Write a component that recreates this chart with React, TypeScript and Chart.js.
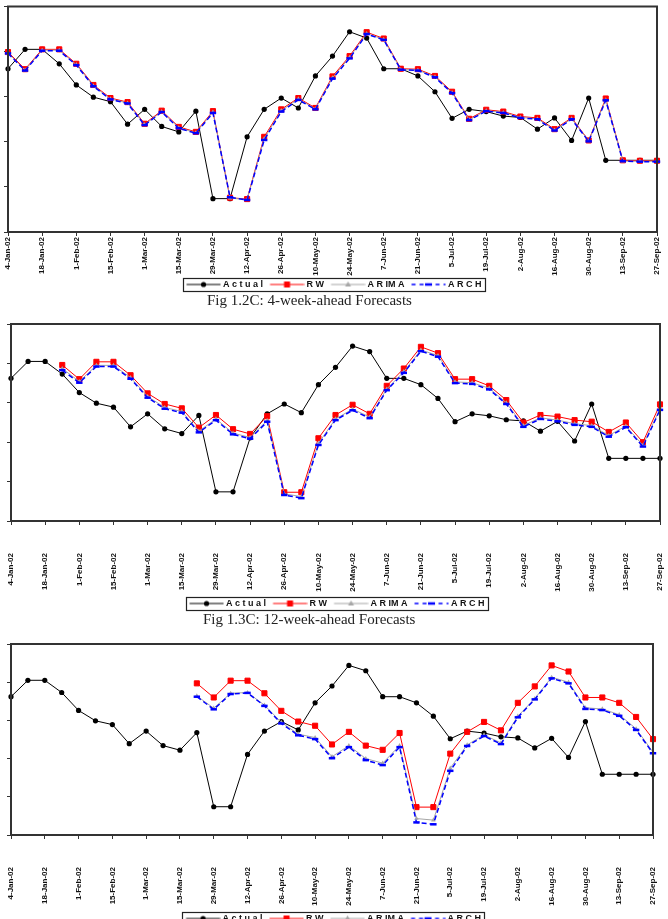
import { useEffect, useRef } from 'react';
import { Chart, registerables } from 'chart.js';

Chart.register(...registerables);

// Weekly observation dates (Fridays), 2002
const weekLabels = [
  '4-Jan-02', '11-Jan-02', '18-Jan-02', '25-Jan-02', '1-Feb-02', '8-Feb-02', '15-Feb-02', '22-Feb-02',
  '1-Mar-02', '8-Mar-02', '15-Mar-02', '22-Mar-02', '29-Mar-02', '5-Apr-02', '12-Apr-02', '19-Apr-02',
  '26-Apr-02', '3-May-02', '10-May-02', '17-May-02', '24-May-02', '31-May-02', '7-Jun-02', '14-Jun-02',
  '21-Jun-02', '28-Jun-02', '5-Jul-02', '12-Jul-02', '19-Jul-02', '26-Jul-02', '2-Aug-02', '9-Aug-02',
  '16-Aug-02', '23-Aug-02', '30-Aug-02', '6-Sep-02', '13-Sep-02', '20-Sep-02', '27-Sep-02',
];

const actual = [
  3.62, 4.05, 4.05, 3.73, 3.26, 2.99, 2.89, 2.39, 2.72, 2.34, 2.22, 2.68, 0.74, 0.74, 2.11, 2.72,
  2.97, 2.75, 3.46, 3.90, 4.44, 4.30, 3.62, 3.62, 3.46, 3.11, 2.52, 2.72, 2.67, 2.57, 2.54, 2.28,
  2.53, 2.03, 2.97, 1.59, 1.59, 1.59, 1.59,
];

// 4-week-ahead forecasts
const rw4 = [
  3.99, 3.61, 4.05, 4.05, 3.73, 3.26, 2.97, 2.88, 2.40, 2.69, 2.33, 2.22, 2.68, 0.76, 0.73, 2.11,
  2.72, 2.97, 2.75, 3.45, 3.90, 4.43, 4.29, 3.62, 3.61, 3.46, 3.11, 2.51, 2.71, 2.67, 2.56, 2.53,
  2.28, 2.53, 2.03, 2.96, 1.59, 1.58, 1.58,
];
const arima4 = [
  3.97, 3.59, 4.03, 4.03, 3.71, 3.24, 2.95, 2.86, 2.38, 2.67, 2.31, 2.20, 2.66, 0.75, 0.72, 2.07,
  2.69, 2.95, 2.73, 3.42, 3.87, 4.40, 4.27, 3.60, 3.59, 3.44, 3.09, 2.49, 2.69, 2.65, 2.54, 2.51,
  2.26, 2.51, 2.02, 2.93, 1.57, 1.57, 1.57,
];
const arch4 = [
  3.96, 3.58, 4.02, 4.02, 3.70, 3.23, 2.94, 2.85, 2.37, 2.66, 2.30, 2.19, 2.64, 0.77, 0.71, 2.04,
  2.67, 2.93, 2.72, 3.40, 3.85, 4.39, 4.26, 3.60, 3.58, 3.43, 3.08, 2.48, 2.68, 2.64, 2.53, 2.50,
  2.25, 2.50, 2.01, 2.92, 1.57, 1.56, 1.56,
];

// 12-week-ahead forecasts
const rw12 = [
  null, null, null, 3.96, 3.60, 4.04, 4.04, 3.70, 3.24, 2.97, 2.86, 2.37, 2.69, 2.33, 2.21, 2.66,
  0.73, 0.73, 2.10, 2.69, 2.95, 2.72, 3.43, 3.87, 4.42, 4.26, 3.60, 3.60, 3.43, 3.07, 2.50, 2.69,
  2.65, 2.56, 2.52, 2.26, 2.50, 2.00, 2.96,
];
const arima12 = [
  null, null, null, 3.87, 3.54, 3.95, 3.95, 3.64, 3.16, 2.88, 2.78, 2.28, 2.59, 2.23, 2.12, 2.55,
  0.69, 0.62, 1.97, 2.59, 2.84, 2.64, 3.35, 3.79, 4.34, 4.20, 3.53, 3.51, 3.37, 3.00, 2.42, 2.62,
  2.56, 2.47, 2.42, 2.17, 2.41, 1.92, 2.85,
];
const arch12 = [
  null, null, null, 3.83, 3.51, 3.92, 3.92, 3.61, 3.13, 2.85, 2.75, 2.25, 2.56, 2.20, 2.09, 2.52,
  0.66, 0.58, 1.93, 2.56, 2.81, 2.61, 3.32, 3.76, 4.31, 4.17, 3.50, 3.48, 3.34, 2.97, 2.39, 2.59,
  2.53, 2.44, 2.39, 2.14, 2.38, 1.89, 2.82,
];

// 24-week-ahead forecasts
const rw24 = [
  null, null, null, null, null, null, null, null, null, null, null,
  3.97, 3.60, 4.04, 4.04, 3.71, 3.25, 2.97, 2.86, 2.37, 2.70, 2.34, 2.23, 2.67, 0.73, 0.73, 2.13,
  2.70, 2.96, 2.74, 3.46, 3.89, 4.44, 4.28, 3.60, 3.60, 3.46, 3.09, 2.51,
];
const arima24 = [
  null, null, null, null, null, null, null, null, null, null, null,
  3.64, 3.32, 3.71, 3.73, 3.40, 2.95, 2.64, 2.55, 2.05, 2.34, 2.00, 1.88, 2.34, 0.43, 0.39, 1.75,
  2.36, 2.62, 2.41, 3.11, 3.57, 4.13, 4.00, 3.33, 3.30, 3.15, 2.78, 2.17,
];
const arch24 = [
  null, null, null, null, null, null, null, null, null, null, null,
  3.62, 3.29, 3.69, 3.72, 3.38, 2.92, 2.61, 2.51, 2.01, 2.30, 1.96, 1.83, 2.30, 0.33, 0.28, 1.68,
  2.33, 2.59, 2.38, 3.08, 3.55, 4.10, 3.97, 3.30, 3.27, 3.12, 2.75, 2.14,
];

const seriesNames = ['A c t u a l', 'R W', 'A R IM A', 'A R C H'];

const SANS = '"Liberation Sans", Arial, sans-serif';
const COL_ACTUAL = '#000000';
const COL_RW = '#ff0000';
const COL_ARIMA = '#a6a6a6';
const COL_ARCH = '#0000ff';
const FRAME = '#333333';

type Layout = {
  top: number;
  height: number;
  padL: number;
  padR: number;
  padT: number;
  padB: number;
  axisH: number;
  tickPad: number;
};

// Line-with-marker swatches for the legend (40px wide, line from x=5.5 to x=39.5)
function makeSwatch(kind: number): HTMLCanvasElement {
  const c = document.createElement('canvas');
  c.width = 40;
  c.height = 10;
  const g = c.getContext('2d')!;
  const cy = 5;
  const x0 = 5.5;
  const x1 = 39.5;
  const cx = 22.5;
  if (kind === 0) {
    g.strokeStyle = COL_ACTUAL; g.lineWidth = 1;
    g.beginPath(); g.moveTo(x0, cy); g.lineTo(x1, cy); g.stroke();
    g.fillStyle = COL_ACTUAL; g.beginPath(); g.arc(cx, cy, 2.6, 0, Math.PI * 2); g.fill();
  } else if (kind === 1) {
    g.strokeStyle = COL_RW; g.lineWidth = 1;
    g.beginPath(); g.moveTo(x0, cy); g.lineTo(x1, cy); g.stroke();
    g.fillStyle = COL_RW; g.fillRect(cx - 3, cy - 3, 6, 6);
  } else if (kind === 2) {
    g.strokeStyle = COL_ARIMA; g.lineWidth = 1;
    g.beginPath(); g.moveTo(x0, cy); g.lineTo(x1, cy); g.stroke();
    g.fillStyle = COL_ARIMA; g.beginPath();
    g.moveTo(cx, cy - 3); g.lineTo(cx + 3, cy + 2); g.lineTo(cx - 3, cy + 2); g.closePath(); g.fill();
  } else {
    g.strokeStyle = COL_ARCH; g.lineWidth = 1.5; g.setLineDash([4, 4]);
    g.beginPath(); g.moveTo(x0, cy); g.lineTo(x1, cy); g.stroke();
    g.setLineDash([]); g.lineWidth = 2.5;
    g.beginPath(); g.moveTo(cx - 3.5, cy); g.lineTo(cx + 3.5, cy); g.stroke();
  }
  return c;
}

// Border round the plot area and round the legend
const framePlugin = {
  id: 'plotFrame',
  afterDraw(chart: any) {
    const { ctx, chartArea: a } = chart;
    ctx.save();
    ctx.strokeStyle = FRAME;
    ctx.lineWidth = 2;
    ctx.strokeRect(a.left, a.top, a.right - a.left, a.bottom - a.top);
    const boxes = chart.legend && chart.legend.legendHitBoxes;
    if (boxes && boxes.length) {
      const first = boxes[0];
      const last = boxes[boxes.length - 1];
      const l = first.left - 1;
      const r = last.left + last.width + 3;
      const t = first.top - 2;
      ctx.lineWidth = 1.2;
      ctx.strokeStyle = '#222';
      ctx.strokeRect(Math.round(l) + 0.5, Math.round(t) + 0.5, Math.round(r - l), 13);
    }
    ctx.restore();
  },
};

function ForecastChart(props: {
  layout: Layout;
  rw: (number | null)[];
  arima: (number | null)[];
  arch: (number | null)[];
}) {
  const ref = useRef<HTMLCanvasElement | null>(null);
  const { layout, rw, arima, arch } = props;

  useEffect(() => {
    if (!ref.current) return;
    const swatches = [0, 1, 2, 3].map(makeSwatch);
    const colors = [COL_ACTUAL, COL_RW, COL_ARIMA, COL_ARCH];
    const chart = new Chart(ref.current, {
      type: 'line',
      data: {
        labels: weekLabels,
        datasets: [
          {
            label: seriesNames[0], data: actual, borderColor: COL_ACTUAL, backgroundColor: COL_ACTUAL,
            borderWidth: 1, pointStyle: 'circle', pointRadius: 2.6, pointBorderWidth: 0,
            pointBackgroundColor: COL_ACTUAL, order: 3, clip: false,
          },
          {
            label: seriesNames[1], data: rw, borderColor: COL_RW, backgroundColor: COL_RW,
            borderWidth: 1, pointStyle: 'rect', pointRadius: 3.6, pointBorderWidth: 1,
            pointBorderColor: COL_RW, pointBackgroundColor: COL_RW, order: 2, clip: false,
          },
          {
            label: seriesNames[2], data: arima, borderColor: COL_ARIMA, backgroundColor: COL_ARIMA,
            borderWidth: 1, pointStyle: 'triangle', pointRadius: 2.6, pointBorderWidth: 0,
            pointBackgroundColor: COL_ARIMA, order: 1, clip: false,
          },
          {
            label: seriesNames[3], data: arch, borderColor: COL_ARCH, backgroundColor: COL_ARCH,
            borderWidth: 1.5, borderDash: [5, 3], pointStyle: 'line', pointRadius: 3.2,
            pointBorderWidth: 2.5, pointBorderColor: COL_ARCH, order: 0, clip: false,
          },
        ],
      } as any,
      options: {
        responsive: false,
        animation: false,
        devicePixelRatio: 1,
        layout: {
          padding: { left: layout.padL, right: layout.padR, top: layout.padT, bottom: layout.padB },
        },
        elements: { line: { tension: 0 } },
        plugins: {
          tooltip: { enabled: false },
          legend: {
            position: 'bottom',
            fullSize: false,
            labels: {
              usePointStyle: true,
              pointStyleWidth: 35,
              padding: 4,
              color: '#111',
              font: { family: SANS, size: 9, weight: 'bold' },
              generateLabels: () =>
                seriesNames.map((text, i) => ({
                  text,
                  pointStyle: swatches[i],
                  fillStyle: colors[i],
                  strokeStyle: colors[i],
                  lineWidth: 0,
                  hidden: false,
                  datasetIndex: i,
                  fontColor: '#111',
                })),
            },
          },
        },
        scales: {
          x: {
            type: 'category',
            offset: false,
            grid: { display: true, drawOnChartArea: false, drawTicks: true, tickLength: 4, color: FRAME, lineWidth: 1 },
            border: { display: true, color: FRAME, width: 2 },
            ticks: {
              autoSkip: false,
              maxRotation: 90,
              minRotation: 90,
              padding: layout.tickPad,
              color: '#111',
              font: { family: SANS, size: 8, weight: 'bold' },
              callback: (_v: any, i: number) => (i % 2 === 0 ? weekLabels[i] : null),
            },
            afterFit: (s: any) => {
              s.height = layout.axisH;
              s.paddingLeft = 0;
              s.paddingRight = 0;
            },
          },
          y: {
            min: 0,
            max: 5,
            grid: { display: true, drawOnChartArea: false, drawTicks: true, tickLength: 4, color: FRAME, lineWidth: 1 },
            border: { display: true, color: FRAME, width: 2 },
            ticks: { display: false, stepSize: 1 },
            afterFit: (s: any) => {
              s.width = 4;
            },
          },
        },
      } as any,
      plugins: [framePlugin],
    });
    return () => chart.destroy();
  }, []);

  return (
    <canvas
      ref={ref}
      width={668}
      height={layout.height}
      style={{ position: 'absolute', left: 0, top: layout.top, width: 668, height: layout.height }}
    />
  );
}

const captionStyle = (top: number, left: number) => ({
  position: 'absolute' as const,
  left,
  top,
  margin: 0,
  fontFamily: '"Liberation Serif", "Times New Roman", serif',
  fontSize: 15,
  lineHeight: '15px',
  color: '#222',
  whiteSpace: 'nowrap' as const,
});

export default function App() {
  return (
    <div
      style={{
        position: 'absolute',
        left: 0,
        top: 0,
        width: 668,
        height: 919,
        overflow: 'hidden',
        background: '#fff',
      }}
    >
      <ForecastChart
        layout={{ top: 0, height: 300, padL: 4, padR: 11, padT: 5, padB: 1, axisH: 44, tickPad: 1 }}
        rw={rw4}
        arima={arima4}
        arch={arch4}
      />
      <div style={captionStyle(293, 207)}>Fig 1.2C: 4-week-ahead Forecasts</div>
      <ForecastChart
        layout={{ top: 312, height: 310, padL: 7, padR: 8, padT: 12, padB: 4, axisH: 74, tickPad: 28 }}
        rw={rw12}
        arima={arima12}
        arch={arch12}
      />
      <div style={captionStyle(612, 203)}>Fig 1.3C: 12-week-ahead Forecasts</div>
      <ForecastChart
        layout={{ top: 630, height: 306, padL: 7, padR: 15, padT: 14, padB: 3, axisH: 75, tickPad: 28 }}
        rw={rw24}
        arima={arima24}
        arch={arch24}
      />
    </div>
  );
}
